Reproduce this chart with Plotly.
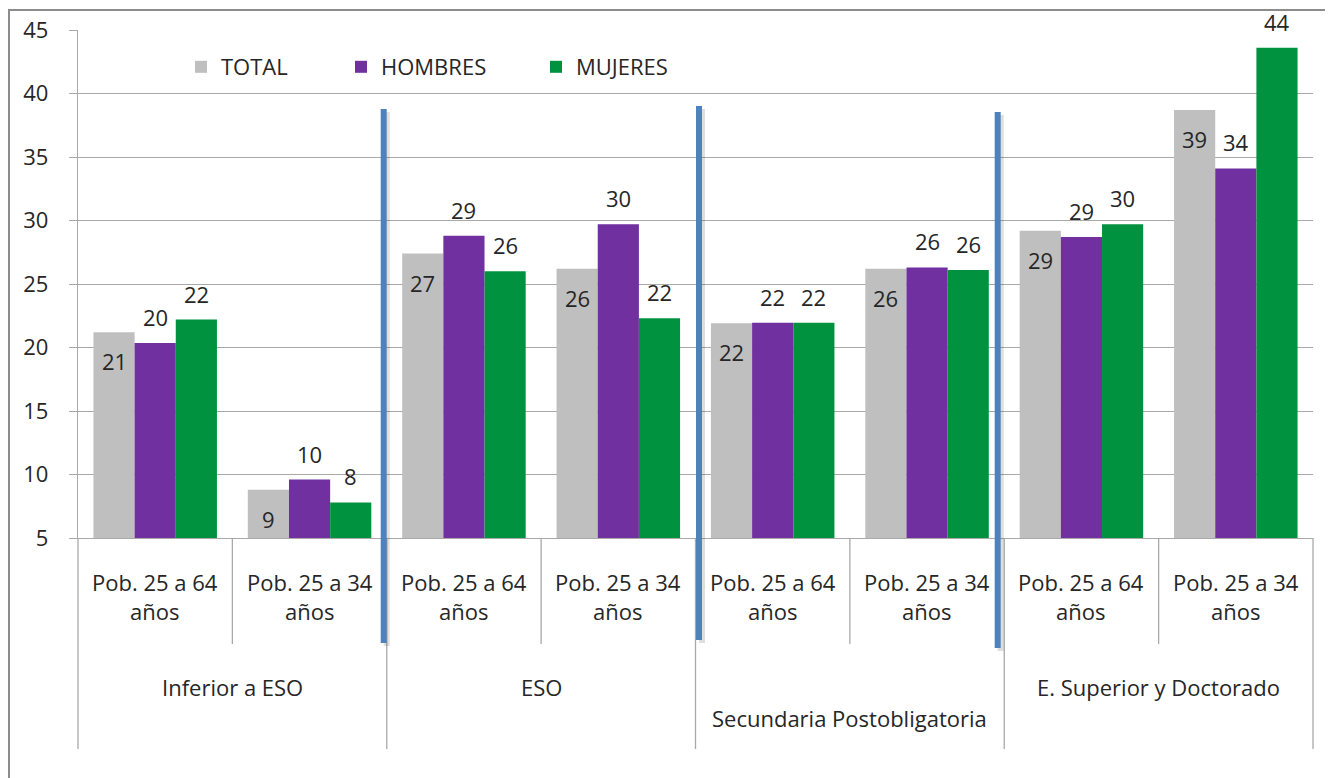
import plotly.graph_objects as go

# ---------------- data ----------------
niveles = ["Inferior a ESO", "ESO", "Secundaria Postobligatoria", "E. Superior y Doctorado"]
edades = ["Pob. 25 a 64 años", "Pob. 25 a 34 años"]

total = [21.2, 8.8, 27.4, 26.2, 21.9, 26.2, 29.2, 38.7]
hombres = [20.35, 9.6, 28.8, 29.7, 21.95, 26.3, 28.7, 34.1]
mujeres = [22.2, 7.8, 26.0, 22.3, 21.95, 26.1, 29.7, 43.6]

series_names = ["TOTAL", "HOMBRES", "MUJERES"]
series_values = [total, hombres, mujeres]
y_ticks = [5, 10, 15, 20, 25, 30, 35, 40, 45]

# ---------------- style ----------------
colors = ["#BFBFBF", "#7030A0", "#00923F"]
FONT = "Open Sans"
FS = 22
TXT = "#262626"
GRID = "#A9A9A9"
OFF = 8                      # page body margin of the browser
W, H = 1333 - OFF, 778 - OFF
L, R, T, B = 70, 20, 22, 240
PW, PH = W - L - R, H - T - B
BARGAP = 0.2

cats = [f"{n} | {e}" for n in niveles for e in edades]
n_cats = len(cats)

fig = go.Figure()
for i, (name, vals) in enumerate(zip(series_names, series_values)):
    fig.add_trace(go.Bar(
        x=cats, y=vals, name=name, marker_color=colors[i],
        marker_line_width=0, legend=["legend", "legend2", "legend3"][i],
        hovertemplate="%{y:.1f}<extra>" + name + "</extra>",
    ))

# ---------------- data labels ----------------
cat_px = PW / n_cats
bar_px = cat_px * (1 - BARGAP) / 3
annotations = []
for i, vals in enumerate(series_values):
    xshift = (i - 1) * bar_px
    yshift = -29 if i == 0 else 26
    for c, v in zip(cats, vals):
        annotations.append(dict(
            x=c, y=v, xref="x", yref="y", text=f"{round(v):d}", showarrow=False,
            xshift=xshift, yshift=yshift, yanchor="middle", xanchor="center",
            font=dict(family=FONT, size=FS, color=TXT),
        ))

# ---------------- helpers: page pixel -> paper ----------------
PLOT_LEFT = OFF + L
PLOT_BOTTOM = OFF + T + PH


def py(px):
    return (PLOT_BOTTOM - px) / PH


def px_(x):
    return (x - PLOT_LEFT) / PW


# ---------------- category labels (two levels) ----------------
for c in cats:
    edad = c.split(" | ")[1]
    a, b = edad.rsplit(" ", 1)
    annotations.append(dict(
        x=c, y=py(596), xref="x", yref="paper", text=f"{a}<br>{b}", showarrow=False,
        yanchor="middle", xanchor="center", align="center",
        font=dict(family=FONT, size=FS, color=TXT),
    ))
for k, n in enumerate(niveles):
    row = 718 if n.startswith("Secundaria") else 687
    annotations.append(dict(
        x=(2 * k + 1) / n_cats, y=py(row), xref="paper", yref="paper", text=n,
        showarrow=False, yanchor="middle", xanchor="center",
        font=dict(family=FONT, size=FS, color=TXT),
    ))

# ---------------- shapes ----------------
shapes = []
# outer chart frame
shapes.append(dict(type="rect", xref="paper", yref="paper",
                   x0=px_(9), x1=1.1, y0=py(10), y1=py(800),
                   line=dict(color="#8C8C8C", width=2), layer="below"))
# category dividers under the axis
for k in range(n_cats + 1):
    bottom = 749 if k % 2 == 0 else 644
    shapes.append(dict(type="line", xref="paper", yref="paper",
                       x0=k / n_cats, x1=k / n_cats, y0=0, y1=py(bottom),
                       line=dict(color=GRID, width=1.3)))
# decorative blue separators (x pixel, top pixel, bottom pixel)
separators = [(383.7, 109, 643), (699, 106, 640), (997.7, 112, 648)]
for xp, tp, bp in separators:
    shapes.append(dict(type="line", xref="paper", yref="paper",
                       x0=px_(xp + 3), x1=px_(xp + 3), y0=py(tp + 3), y1=py(bp + 3),
                       line=dict(color="rgba(0,0,0,0.13)", width=6), layer="above"))
    shapes.append(dict(type="line", xref="paper", yref="paper",
                       x0=px_(xp), x1=px_(xp), y0=py(tp), y1=py(bp),
                       line=dict(color="#4F81BD", width=6), layer="above"))


# ---------------- legends ----------------
def legend_at(left_px):
    return dict(x=px_(left_px), y=py(67), xanchor="left", yanchor="middle",
                orientation="h", bgcolor="rgba(0,0,0,0)", borderwidth=0,
                font=dict(family=FONT, size=FS, color=TXT))


fig.update_layout(
    width=W, height=H,
    margin=dict(l=L, r=R, t=T, b=B, autoexpand=False),
    paper_bgcolor="white", plot_bgcolor="white",
    barmode="group", bargap=BARGAP, bargroupgap=0,
    font=dict(family=FONT, size=FS, color=TXT),
    showlegend=True,
    legend=legend_at(181), legend2=legend_at(341), legend3=legend_at(536),
    annotations=annotations, shapes=shapes,
    xaxis=dict(type="category", categoryorder="array", categoryarray=cats,
               showticklabels=False, ticks="", showline=True, linecolor=GRID,
               linewidth=1.3, showgrid=False, fixedrange=True, automargin=False),
    yaxis=dict(range=[5, 45], tickvals=y_ticks, ticks="outside", ticklen=8,
               tickcolor=GRID, tickwidth=1.3, showline=True, linecolor=GRID,
               linewidth=1.3, showgrid=True, gridcolor=GRID, gridwidth=1.3,
               zeroline=False, ticklabelstandoff=16, automargin=False,
               tickfont=dict(family=FONT, size=FS, color=TXT), fixedrange=True),
)

fig.write_html("out.html")
